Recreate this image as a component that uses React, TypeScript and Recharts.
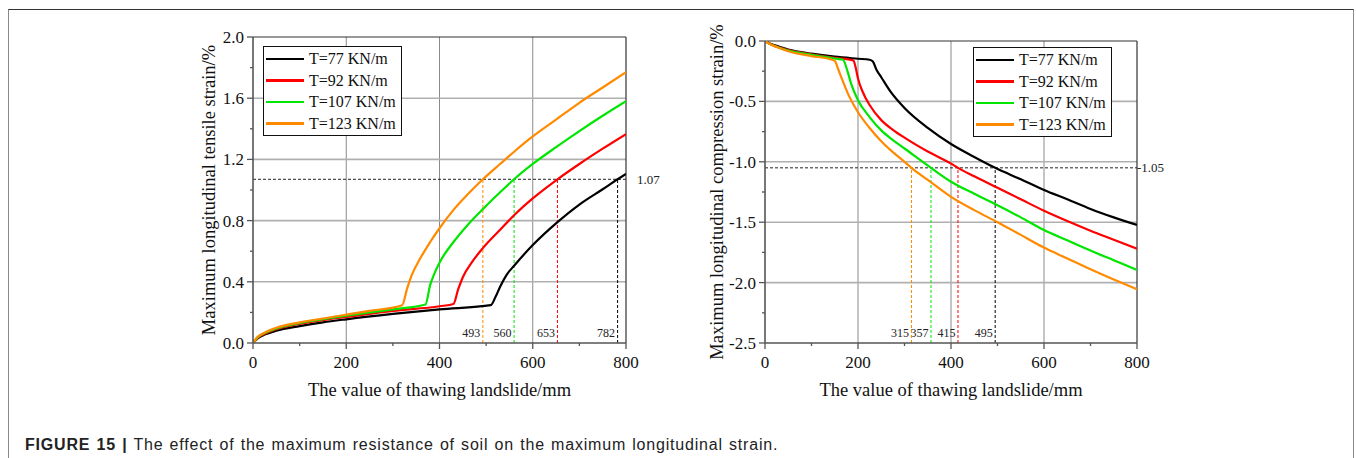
import React from 'react';
import { LineChart, Line, XAxis, YAxis, ReferenceLine, Legend } from 'recharts';

const SERIES_NAMES = ['T=77 KN/m', 'T=92 KN/m', 'T=107 KN/m', 'T=123 KN/m'];
const SERIES_COLORS = ['#000000', '#ff0000', '#00e600', '#ff8a00'];

const X_TICKS = [0, 100, 200, 300, 400, 500, 600, 700, 800];
const TENSILE_TICKS = [0, 0.2, 0.4, 0.6, 0.8, 1.0, 1.2, 1.4, 1.6, 1.8, 2.0];
const COMPRESSION_TICKS = [0, -0.25, -0.5, -0.75, -1.0, -1.25, -1.5, -1.75, -2.0, -2.25, -2.5];

// [thawing landslide mm, strain %]
const TENSILE_77 = [
  [0, 0], [10, 0.03], [25, 0.055], [50, 0.08], [100, 0.11], [150, 0.135], [200, 0.155], [300, 0.19],
  [400, 0.22], [510, 0.247], [520, 0.3], [530, 0.367], [545, 0.45], [560, 0.505], [600, 0.64],
  [653, 0.79], [700, 0.905], [750, 1.005], [782, 1.07], [800, 1.105],
];
const TENSILE_92 = [
  [0, 0], [10, 0.035], [25, 0.06], [50, 0.09], [100, 0.125], [150, 0.15], [200, 0.17], [300, 0.21],
  [400, 0.24], [430, 0.255], [440, 0.35], [450, 0.43], [470, 0.53], [493, 0.62], [530, 0.74],
  [560, 0.835], [600, 0.945], [653, 1.07], [700, 1.17], [750, 1.27], [800, 1.365],
];
const TENSILE_107 = [
  [0, 0], [10, 0.037], [25, 0.065], [50, 0.095], [100, 0.13], [150, 0.155], [200, 0.178], [300, 0.22],
  [370, 0.252], [380, 0.38], [390, 0.46], [400, 0.525], [430, 0.66], [460, 0.77], [493, 0.875],
  [530, 0.985], [560, 1.07], [600, 1.17], [650, 1.28], [700, 1.385], [750, 1.485], [800, 1.58],
];
const TENSILE_123 = [
  [0, 0], [10, 0.04], [25, 0.068], [50, 0.1], [100, 0.135], [150, 0.16], [200, 0.185], [250, 0.21],
  [320, 0.247], [330, 0.35], [340, 0.44], [360, 0.56], [380, 0.66], [400, 0.75], [430, 0.87],
  [460, 0.97], [493, 1.07], [530, 1.17], [560, 1.25], [600, 1.35], [650, 1.46], [700, 1.57],
  [750, 1.67], [800, 1.77],
];

const COMPRESSION_77 = [
  [0, 0], [10, -0.02], [25, -0.04], [50, -0.07], [100, -0.105], [150, -0.13], [200, -0.147],
  [225, -0.155], [232, -0.17], [240, -0.24], [250, -0.3], [270, -0.42], [300, -0.555], [350, -0.72],
  [400, -0.853], [450, -0.96], [495, -1.05], [550, -1.145], [600, -1.233], [650, -1.31],
  [700, -1.39], [750, -1.46], [800, -1.523],
];
const COMPRESSION_92 = [
  [0, 0], [10, -0.022], [25, -0.045], [50, -0.075], [100, -0.11], [150, -0.14], [190, -0.16],
  [195, -0.22], [200, -0.31], [210, -0.42], [225, -0.53], [250, -0.655], [275, -0.735], [300, -0.8],
  [350, -0.915], [400, -1.015], [415, -1.05], [450, -1.12], [500, -1.215], [550, -1.31], [600, -1.405],
  [650, -1.49], [700, -1.57], [750, -1.645], [800, -1.72],
];
const COMPRESSION_107 = [
  [0, 0], [10, -0.024], [25, -0.048], [50, -0.08], [100, -0.115], [150, -0.145], [168, -0.155],
  [175, -0.22], [185, -0.35], [200, -0.49], [225, -0.63], [250, -0.74], [275, -0.82], [300, -0.89],
  [357, -1.05], [400, -1.165], [450, -1.265], [500, -1.36], [550, -1.46], [600, -1.565],
  [650, -1.65], [700, -1.735], [750, -1.815], [800, -1.895],
];
const COMPRESSION_123 = [
  [0, 0], [10, -0.025], [25, -0.05], [50, -0.085], [100, -0.125], [140, -0.15], [150, -0.165],
  [158, -0.24], [165, -0.31], [180, -0.45], [200, -0.59], [225, -0.72], [250, -0.83], [275, -0.92],
  [300, -1.0], [315, -1.05], [350, -1.15], [400, -1.29], [450, -1.4], [500, -1.5], [550, -1.605],
  [600, -1.71], [650, -1.8], [700, -1.89], [750, -1.975], [800, -2.055],
];

// thresholds and where each curve crosses them
const TENSILE_LIMIT = 1.07;
const TENSILE_CROSS = [782, 653, 560, 493];
const COMPRESSION_LIMIT = -1.05;
const COMPRESSION_CROSS = [495, 415, 357, 315];

const SERIF = '"Liberation Serif", "Times New Roman", serif';
const AXIS_COLOR = '#555';

const toPts = (arr: number[][]) => arr.map(([x, y]) => ({ x, y }));

const XTick = (props: any) => {
  const { x, y, payload } = props;
  const major = payload.value % 200 === 0;
  return (
    <g>
      <line x1={x} y1={y} x2={x} y2={y + (major ? 6 : 3)} stroke={AXIS_COLOR} strokeWidth={1.3} />
      {major && (
        <text x={x} y={y + 25} textAnchor="middle" fontSize={17} fontFamily={SERIF} fill="#111">
          {payload.value}
        </text>
      )}
    </g>
  );
};

const makeYTick = (isMajor: (v: number) => boolean) => (props: any) => {
  const { x, y, payload } = props;
  const major = isMajor(payload.value);
  return (
    <g>
      <line x1={x} y1={y} x2={x - (major ? 6 : 3)} y2={y} stroke={AXIS_COLOR} strokeWidth={1.3} />
      {major && (
        <text x={x - 9} y={y} dy="0.35em" textAnchor="end" fontSize={17} fontFamily={SERIF} fill="#111">
          {Math.abs(payload.value) < 1e-9 ? '0.0' : payload.value.toFixed(1)}
        </text>
      )}
    </g>
  );
};

const yTitle = (text: string, dx: number) => (props: any) => {
  const vb = props.viewBox;
  const cx = vb.x + dx;
  const cy = vb.y + vb.height / 2;
  return (
    <text x={cx} y={cy} transform={`rotate(-90 ${cx} ${cy})`} textAnchor="middle" dy="0.35em"
      fontSize={18.5} fontFamily={SERIF} fill="#111">
      {text}
    </text>
  );
};

const xTitle = (text: string) => (props: any) => {
  const vb = props.viewBox;
  return (
    <text x={vb.x + vb.width / 2} y={vb.y + 53} textAnchor="middle" fontSize={18.5} fontFamily={SERIF} fill="#111">
      {text}
    </text>
  );
};

const renderLegend = () => (
  <div style={{ border: '1px solid #111', background: '#fff', width: 137, padding: '1px 0 1px 0', boxSizing: 'content-box' }}>
    {SERIES_NAMES.map((name, i) => (
      <div key={name} style={{ display: 'flex', alignItems: 'center', height: 21.5, whiteSpace: 'nowrap' }}>
        <div style={{ width: 38, height: 2.5, background: SERIES_COLORS[i], marginLeft: 2, marginRight: 5, flex: 'none' }} />
        <span style={{ fontFamily: SERIF, fontSize: 16, color: '#111', lineHeight: '21px' }}>{name}</span>
      </div>
    ))}
  </div>
);

const vLabel = (text: string) => (props: any) => {
  const vb = props.viewBox;
  return (
    <text x={vb.x - 2.5} y={vb.y + vb.height - 6} textAnchor="end" fontSize={12} fontFamily={SERIF} fill="#222">
      {text}
    </text>
  );
};

const hLabel = (text: string, gap: number) => (props: any) => {
  const vb = props.viewBox;
  return (
    <text x={vb.x + vb.width + gap} y={vb.y} dy="0.35em" fontSize={13} fontFamily={SERIF} fill="#222">
      {text}
    </text>
  );
};

const GRID_V = { stroke: '#8a8a8a', strokeWidth: 1 };
const GRID_H = { stroke: '#b0b0b0', strokeWidth: 1.6 };

const TENSILE = [TENSILE_77, TENSILE_92, TENSILE_107, TENSILE_123];
const COMPRESSION = [COMPRESSION_77, COMPRESSION_92, COMPRESSION_107, COMPRESSION_123];

const TensileChart = () => (
  <LineChart width={500} height={380} margin={{ top: 17, right: 54, bottom: 0, left: 0 }}>
    <XAxis type="number" dataKey="x" domain={[0, 800]} ticks={X_TICKS} interval={0} tickSize={0} tickMargin={0}
      tick={XTick} tickLine={false} height={57} axisLine={{ stroke: AXIS_COLOR, strokeWidth: 1.6 }}
      allowDataOverflow label={xTitle('The value of thawing landslide/mm')} />
    <YAxis type="number" domain={[0, 2]} ticks={TENSILE_TICKS} interval={0} tickSize={0} tickMargin={0}
      tick={makeYTick((v) => Math.round(v * 10) % 4 === 0)} tickLine={false} width={73}
      axisLine={{ stroke: AXIS_COLOR, strokeWidth: 1.6 }} allowDataOverflow
      label={yTitle('Maximum longitudinal tensile strain/%', 29)} />
    {[200, 400, 600].map((v) => <ReferenceLine key={`gx${v}`} x={v} {...GRID_V} />)}
    {[0.4, 0.8, 1.2, 1.6].map((v) => <ReferenceLine key={`gy${v}`} y={v} {...GRID_H} />)}
    <ReferenceLine y={2} stroke="#333" strokeWidth={1.2} />
    <ReferenceLine x={800} stroke="#333" strokeWidth={1.2} />
    <ReferenceLine segment={[{ x: 0, y: TENSILE_LIMIT }, { x: 800, y: TENSILE_LIMIT }]} stroke="#222"
      strokeDasharray="3 2" strokeWidth={1} label={hLabel(String(TENSILE_LIMIT), 11)} />
    {TENSILE_CROSS.map((v, i) => (
      <ReferenceLine key={`c${v}`} segment={[{ x: v, y: 0 }, { x: v, y: TENSILE_LIMIT }]} stroke={SERIES_COLORS[i]}
        strokeDasharray="3 2" strokeWidth={1} label={vLabel(String(v))} />
    ))}
    {TENSILE.map((s, i) => (
      <Line key={SERIES_NAMES[i]} data={toPts(s)} dataKey="y" name={SERIES_NAMES[i]} type="monotone"
        stroke={SERIES_COLORS[i]} strokeWidth={2.2} dot={false} isAnimationActive={false} />
    ))}
    <Legend content={renderLegend} layout="vertical" align="center" verticalAlign="middle"
      wrapperStyle={{ left: 83, top: 26, width: 'auto' }} />
  </LineChart>
);

const CompressionChart = () => (
  <LineChart width={500} height={380} margin={{ top: 21, right: 53, bottom: 0, left: 0 }}>
    <XAxis type="number" dataKey="x" domain={[0, 800]} ticks={X_TICKS} interval={0} tickSize={0} tickMargin={0}
      tick={XTick} tickLine={false} height={57} axisLine={{ stroke: AXIS_COLOR, strokeWidth: 1.6 }}
      allowDataOverflow label={xTitle('The value of thawing landslide/mm')} />
    <YAxis type="number" domain={[-2.5, 0]} ticks={COMPRESSION_TICKS} interval={0} tickSize={0} tickMargin={0}
      tick={makeYTick((v) => Math.round(Math.abs(v) * 100) % 50 === 0)} tickLine={false} width={75}
      axisLine={{ stroke: AXIS_COLOR, strokeWidth: 1.6 }} allowDataOverflow
      label={yTitle('Maximum longitudinal compression strain/%', 27)} />
    {[200, 400, 600].map((v) => <ReferenceLine key={`gx${v}`} x={v} {...GRID_V} />)}
    {[-0.5, -1.0, -1.5, -2.0].map((v) => <ReferenceLine key={`gy${v}`} y={v} {...GRID_H} />)}
    <ReferenceLine y={0} stroke="#333" strokeWidth={1.2} />
    <ReferenceLine x={800} stroke="#333" strokeWidth={1.2} />
    <ReferenceLine segment={[{ x: 0, y: COMPRESSION_LIMIT }, { x: 800, y: COMPRESSION_LIMIT }]} stroke="#222"
      strokeDasharray="3 2" strokeWidth={1} label={hLabel(String(COMPRESSION_LIMIT), 0)} />
    {COMPRESSION_CROSS.map((v, i) => (
      <ReferenceLine key={`c${v}`} segment={[{ x: v, y: -2.5 }, { x: v, y: COMPRESSION_LIMIT }]}
        stroke={SERIES_COLORS[i]} strokeDasharray="3 2" strokeWidth={1} label={vLabel(String(v))} />
    ))}
    {COMPRESSION.map((s, i) => (
      <Line key={SERIES_NAMES[i]} data={toPts(s)} dataKey="y" name={SERIES_NAMES[i]} type="monotone"
        stroke={SERIES_COLORS[i]} strokeWidth={2.2} dot={false} isAnimationActive={false} />
    ))}
    <Legend content={renderLegend} layout="vertical" align="center" verticalAlign="middle"
      wrapperStyle={{ left: 283, top: 27, width: 'auto' }} />
  </LineChart>
);

export default function App() {
  return (
    <div style={{ position: 'absolute', left: 0, top: 0, width: 1356, height: 458, background: '#fff', overflow: 'hidden' }}>
      <div style={{ position: 'absolute', left: 8, top: 9, width: 1344, height: 460, borderTop: '1px solid #333',
        borderLeft: '1px solid #888', borderRight: '1px solid #888' }} />
      <div style={{ position: 'absolute', left: 180, top: 20 }}>
        <TensileChart />
      </div>
      <div style={{ position: 'absolute', left: 690, top: 20 }}>
        <CompressionChart />
      </div>
      <div style={{ position: 'absolute', left: 25, top: 435, fontFamily: '"Liberation Sans", Arial, sans-serif',
        fontSize: 16, letterSpacing: 0.8, wordSpacing: 1, lineHeight: '20px', color: '#222', whiteSpace: 'nowrap' }}>
        <b>FIGURE 15 |</b> The effect of the maximum resistance of soil on the maximum longitudinal strain.
      </div>
    </div>
  );
}
